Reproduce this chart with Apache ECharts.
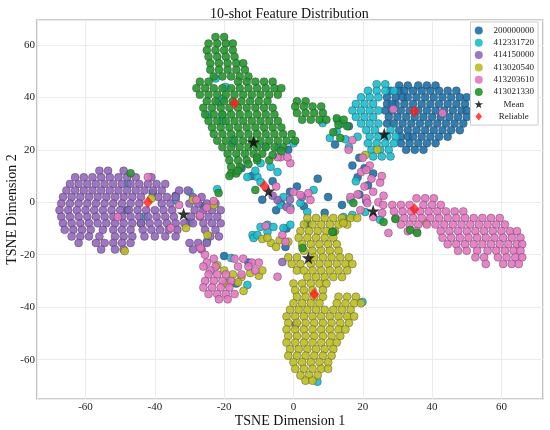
<!DOCTYPE html>
<html>
<head>
<meta charset="utf-8">
<script src="https://cdn.jsdelivr.net/npm/echarts/dist/echarts.min.js"></script>
<style>
html, body { margin: 0; padding: 0; background: #fff; }
#chart { width: 550px; height: 430px; }
</style>
</head>
<body>
<div id="chart"></div>
<script>
// 类别名称与颜色
var classNames = ['200000000', '412331720', '414150000', '413020540', '413203610', '413021330'];
var classColors = ['#1c70a8', '#17becf', '#9467bd', '#bcbd22', '#e377c2', '#24962c'];

// 每个类别: 按行 [y, [x...]] 读出的主体, 外加零散点 [x, y]
var blueRows = [
    [44.5, [30.5, 33, 36, 38.5, 41]],
    [42.5, [28, 30.5, 32, 34.5, 37, 39.5, 42, 44.5, 47]],
    [40, [27, 29.5, 31.5, 33, 35.5, 38, 40.5, 43, 45.5, 48, 50]],
    [37.5, [27, 29.5, 32, 34.5, 37, 39.5, 42, 44.5, 47, 49.5]],
    [35, [26.5, 28.5, 31, 33.5, 36, 38.5, 41, 43.5, 46, 48.5, 50]],
    [32.5, [27.5, 30, 32.5, 35, 37.5, 40, 42.5, 45, 47.5, 50]],
    [30, [27, 29, 31.5, 34, 36.5, 39, 41.5, 44, 46.5, 49]],
    [27.5, [30.5, 33, 35.5, 38, 40.5, 43, 45.5, 48]],
    [25, [31, 33, 34.5, 37, 39.5, 42, 44.5]],
    [22.5, [31, 33.5, 36, 38.5, 41]],
    [20, [32.5, 35, 37.5]]
];
var blueExtra = [[19, 17], [20.5, 13], [18.5, 9.5], [21.5, 6.5], [19, 3], [21, 0.5], [17, 14], [23, 11],
    [-40.6, 3.5], [-3.7, 0], [-2.3, -17], [-1, 4], [3, -1.5], [-5, -3], [1, 6], [-9, 1], [-34, 2.5],
    [-44, -8], [-48, -3], [-30, -7.5], [-26, -1.5], [-13, -23], [-16.5, -31], [-20, -20.5], [7, 9],
    [10, 2], [14, -1], [-2, -10], [-6, 8], [-12, 10], [-15, 13], [4, -8], [9, -4], [-1.5, 20],
    [16, 29], [12, 22], [28.5, 37.5]];

var cyanRows = [
    [45, [24, 26.5]],
    [42.5, [21.5, 24, 26.5, 29]],
    [40, [19.5, 22, 24.5]],
    [37.5, [18, 20.5, 23]],
    [35, [17, 19.5, 22, 24.5]],
    [32.5, [18, 20.5, 23]],
    [30, [19.5, 22, 24.5]],
    [27.5, [21, 23.5, 28]],
    [25, [22, 24.5, 27, 29.5]],
    [22.5, [21.5, 24, 26.5, 29]],
    [20, [22.5, 25, 27.5]],
    [17.5, [23, 25.5, 28]]
];
var cyanExtra = [[14, 30], [12.5, 27], [15, 24], [16, 21], [18.5, 25], [10.5, 24.5], [8.4, 30.2], [12.7, 31.3],
    [-22.5, 47.2], [-19.6, 44], [-21.6, 38.3], [-20.5, 39.5], [-24.8, 33.3], [-20.5, 33.3], [-20.5, 31],
    [-17.6, 22.5], [-17.3, 24], [-8.1, 21.3], [-4.3, 20.5], [0, 22.5], [-9.5, 14.9], [-6.6, 13.5],
    [-4.6, 11.5], [-13.3, 9.6], [-10.4, 9.6], [-9.5, 7.7], [-11, 12], [-3.7, -1], [-0.9, -2.2], [2, -0.3],
    [-2.9, 2], [5.8, 4.7], [4, -3.7], [-11.8, -12.5], [-9.5, -9.4], [-7.5, -8.6], [-5.8, -9.4],
    [-2.9, -9.8], [-0.9, -8.6], [14.4, -5.6], [17, -4.8], [20.7, -3.7], [25, -6.7], [-19, -30.7],
    [-18, -21.2], [-13.3, -31.5], [-11.5, -13.6], [-10.4, -12.5], [-7.5, -11.3], [-47.8, 7.3],
    [-43.2, -5.6], [-34, 0.9], [6.9, -68.4], [19.9, -38], [-22, 5], [-25, -15], [-30, 4], [18, 8], [16.5, 1]];

var purpleRows = [
    [12, [-56, -53.5, -49]],
    [9.5, [-63, -60.5, -58, -55.5, -53, -50.5, -48, -45.5, -41]],
    [7, [-64.5, -62, -59.5, -57, -54.5, -52, -49.5, -47, -44.5, -42, -39.5, -37]],
    [4.5, [-65.5, -63, -60.5, -58, -55.5, -53, -50.5, -48, -45.5, -43, -40.5, -38, -33, -30.5]],
    [2, [-66.5, -64, -61.5, -59, -56.5, -54, -51.5, -49, -46.5, -44, -39, -36.5, -34, -29, -26.5]],
    [-0.5, [-67, -64.5, -62, -59.5, -57, -54.5, -52, -49.5, -47, -44.5, -38, -35.5, -30, -27.5, -25, -22.5]],
    [-3, [-67.5, -65, -62.5, -60, -57.5, -55, -52.5, -50, -47.5, -45, -42.5, -40, -37.5, -35, -28.5, -26, -23.5, -21]],
    [-5.5, [-67, -64.5, -62, -59.5, -57, -54.5, -52, -49.5, -47, -44.5, -42, -39.5, -37, -34.5, -29.5, -27, -24.5, -22]],
    [-8, [-66.5, -64, -61.5, -59, -56.5, -54, -51.5, -49, -46.5, -44, -41.5, -39, -36.5, -34, -31.5, -29, -26, -23.5, -21]],
    [-10.5, [-66, -63.5, -61, -58.5, -55, -52, -49.5, -47, -43.5, -41, -38.5, -36, -33.5, -25.5, -22.5]],
    [-13, [-64, -61.5, -59, -56, -51.5, -49, -46.5, -43, -40, -37, -34, -24, -21.5]],
    [-15.5, [-62, -57, -54.5, -52, -49.5, -47, -30, -27.5, -25]],
    [-18, [-55.5, -51.5, -49, -29, -26.5]]
];
var purpleExtra = [[-4.6, 0.9], [-2, -1.8], [0.6, -46.7], [-3.2, -22.8], [-6, 2.5], [-1, 1], [2.5, 2]];

var oliveRows = [
    [-6, [4, 6.5, 9, 11.5, 14, 16.5]],
    [-8.5, [3, 5.5, 8, 10.5, 13, 15.5]],
    [-11, [2, 4.5, 7, 9.5, 12]],
    [-13.5, [1.5, 4, 6.5, 9, 11.5]],
    [-16, [2.5, 5, 7.5, 10, 12.5]],
    [-18.5, [3, 5.5, 8, 10.5, 13]],
    [-21, [-1.5, 1, 6, 8.5, 11, 13.5, 16]],
    [-23.5, [-0.5, 2, 5, 7.5, 10, 12.5, 15, 17]],
    [-26, [1, 3, 5.5, 8, 10.5, 13, 15.5]],
    [-28.5, [4, 6.5, 9, 11.5, 14]],
    [-31, [0, 2.5, 5, 7.5, 9.5]],
    [-33.5, [0.5, 3, 5.5, 8.5]],
    [-36, [1, 3.5, 6, 8.5, 13, 15.5, 18]],
    [-38.5, [0, 2.5, 5, 7.5, 12.5, 15, 17.5, 19.5]],
    [-41, [-1, 1.5, 4, 6.5, 9, 11.5, 14, 16.5]],
    [-43.5, [-2, 0.5, 3, 5.5, 8, 10.5, 13, 15.5, 17.5]],
    [-46, [-1.5, 1, 3.5, 6, 8.5, 11, 13.5, 16]],
    [-48.5, [-2, 0.5, 3, 5.5, 8, 10.5, 13, 15]],
    [-51, [-1.5, 1, 3.5, 6, 8.5, 11, 13.5]],
    [-53.5, [-2, 0.5, 3, 5.5, 8, 10.5, 12.5]],
    [-56, [-1, 1.5, 4, 6.5, 9, 11.5]],
    [-58.5, [-1.5, 1, 3.5, 6, 8.5, 11]],
    [-61, [0, 2.5, 5, 7.5, 10]],
    [-63.5, [0.5, 3, 5.5, 8, 10]],
    [-66, [2, 4.5, 7]],
    [-68, [3.5, 5.5]]
];
var oliveExtra = [[-9, -14], [-6.5, -15.5], [-4, -14.5], [-1.5, -15], [-20, -26], [-17.5, -27.5], [-15, -28.5],
    [-12.5, -27], [-10, -28], [-9, -26], [-16, -30.5], [-19.5, -31], [-22, -24], [-14.4, -33.8],
    [-48.7, -18.6], [-41, 1.5], [-31, -9.8], [-24.8, -12.5], [-29, 0.9], [-23, -1], [18.4, -6],
    [14.4, -7.9], [38.3, -7.9], [20.7, 18], [24.2, 20], [-7.5, -13.5], [-5, -17]];

var pinkRows = [
    [1.5, [35.5, 38, 40.5]],
    [-1, [28.5, 31, 33.5, 37.5, 40, 42.5]],
    [-3.5, [29, 31.5, 34, 36.5, 39, 41.5, 44, 46.5, 49]],
    [-6, [29.5, 32, 34.5, 37, 39.5, 42, 44.5, 47, 49.5, 52, 54.5, 57, 59.5]],
    [-8.5, [31, 33.5, 36, 38.5, 41, 43.5, 46, 48.5, 51, 53.5, 56, 58.5, 61]],
    [-11, [33, 35.5, 42.5, 45, 47.5, 50, 52.5, 55, 57.5, 60, 62.5, 64.5]],
    [-13.5, [43, 45.5, 48, 50.5, 53, 55.5, 58, 60.5, 63, 65.5]],
    [-16, [44.5, 47, 49.5, 52, 54.5, 57, 59.5, 62, 64.5, 66]],
    [-18.5, [47.5, 50, 53, 56, 58.5, 61, 63.5, 65.5]],
    [-21, [52.5, 55, 59, 61.5, 64, 66]],
    [-23.5, [55.5, 60.5, 63, 65]],
    // 左下粉色团
    [-20, [-25.5]],
    [-21.5, [-23, -17, -14.5]],
    [-23, [-25, -12, -10]],
    [-24.5, [-22.5, -26, -16, -13]],
    [-26, [-24, -11]],
    [-27.5, [-24.5, -22, -19.5, -15]],
    [-30, [-25.5, -23, -20.5, -18]],
    [-32.5, [-26, -23.5, -21, -18.5]],
    [-35, [-24.5, -22, -19.5, -17]],
    [-37, [-21.5, -19]]
];
var pinkExtra = [[20, 17], [22, 14], [19.5, 11.5], [22.5, 9], [25, 7.5], [20.5, 6], [23, 4], [26, 2.5],
    [21, 1.5], [18.5, 3], [24.5, 0], [17, 23.7], [28.8, 35.5], [43, 34], [15.9, 20], [21, 12.3],
    [25.5, 10], [16.4, 2], [21.3, -0.3], [25.9, -1], [19.3, -3], [23, -5.6], [25.6, -4.1], [27.4, -11.7],
    [-28, 1], [-25, -2], [-27, -5], [-23, 0.5], [-42, 9.6], [-50.7, -5.6], [-35.4, -9.8], [-26.8, -17.4],
    [0, 3.9], [2, 2.8], [4.9, 0.9], [4.3, 3.5], [-0.9, -2.9], [-3.7, 17.2], [-0.9, 14.9], [-4.6, 17.2],
    [-1.7, 17.2], [-3.2, -12.5], [-2.3, -15.1], [-4.6, -28.4], [-8, -9], [-5, 6], [-33, -1]];

var greenRows = [
    [63, [-22.5, -20]],
    [60.5, [-24.5, -22, -19.5, -17.5]],
    [58, [-25, -22.5, -20, -17.5]],
    [55.5, [-24.5, -22, -19.5, -17]],
    [53, [-24, -21.5, -19, -16.5, -14.5]],
    [50.5, [-24, -21.5, -19, -16.5, -14]],
    [48, [-23, -20.5, -18, -15.5, -13]],
    [46, [-27, -24.5, -16, -13.5, -11, -8.5, -6]],
    [43.5, [-28, -25.5, -23, -20.5, -18, -15.5, -13, -10.5, -8, -5.5, -3.5]],
    [41, [-27, -24.5, -22, -19.5, -17, -14.5, -12, -9.5, -7, -4.5]],
    [38.5, [-25, -22.5, -20, -17.5, -15, -12.5, -10, -7.5]],
    [36, [-26, -23.5, -21, -18.5, -16, -13.5, -11, -8.5, -6]],
    [33.5, [-25.5, -23, -20.5, -18, -15.5, -13, -10.5, -8, -5.5]],
    [31, [-24.5, -22, -19.5, -17, -14.5, -12, -9.5, -7, -4.5]],
    [28.5, [-23.5, -21, -18.5, -16, -13.5, -11, -8.5, -6, -3.5]],
    [26, [-23, -20.5, -18, -15.5, -13, -10.5, -8, -5.5, -3, -0.5]],
    [23.5, [-22, -19.5, -17, -14.5, -12, -9.5, -7, -4.5, -2, 0.5]],
    [21, [-20.5, -18, -15.5, -13, -10.5, -8, -5.5, -3]],
    [18.5, [-19, -16.5, -14, -11.5, -9]],
    [16, [-18.5, -16, -13.5, -10.5, -7]],
    [13.5, [-18, -15.5]],
    [11, [-18, -16.5]],
    // 小绿团
    [38.5, [1, 3.5]],
    [36.5, [0.5, 3, 5.5, 8]],
    [34, [1, 3.5, 6, 8.5]],
    [31.5, [2.5, 5, 7.5, 9.5]],
    [32, [12.5]],
    [31.5, [14.5]],
    [29.5, [13]],
    [29, [15.5]]
];
var greenExtra = [[11.5, 26.7], [13.5, 24.5], [11.5, -11.3], [17.3, -0.3], [29.4, -6.4], [33.7, -10.6],
    [35.7, -11.7], [26, -7.5], [2.6, -17.4], [11.2, -11.3], [-47, 11.1], [-21.6, 3.5], [-16, 12],
    [-13, 14.5], [-10.5, 17], [-6, 18], [-3.5, 19.5], [-18.5, 10], [-11, 4.7]];

// 均值点(星形)与可靠点(菱形)
var meanPoints = [[26.2, 26], [-7.2, 4.3], [-31.7, -4.5], [4.3, -21.2], [23, -3.3], [-11.5, 23]];
var reliablePoints = [[34.9, 34.7], [-8.4, 6.2], [-42, 0], [6, -35], [34.9, -2.6], [-17, 37.8]];

function rowsToPoints(rows, extra) {
    var pts = [];
    rows.forEach(function (r) {
        r[1].forEach(function (x) { pts.push([x, r[0]]); });
    });
    return pts.concat(extra);
}

var classData = [
    rowsToPoints(blueRows, blueExtra),
    rowsToPoints(cyanRows, cyanExtra),
    rowsToPoints(purpleRows, purpleExtra),
    rowsToPoints(oliveRows, oliveExtra),
    rowsToPoints(pinkRows, pinkExtra),
    rowsToPoints(greenRows, greenExtra)
];

var starPath = 'path://M50,0 L61.8,35.1 L98.9,35.1 L68.8,56.7 L80.2,91.8 L50,70 L19.8,91.8 L31.2,56.7 L1.1,35.1 L38.2,35.1 Z';
var diamondPath = 'path://M5,0 L10,6 L5,12 L0,6 Z';
var serif = 'Liberation Serif';

var chart = echarts.init(document.getElementById('chart'));

var series = classNames.map(function (name, i) {
    return {
        name: name,
        type: 'scatter',
        data: classData[i],
        symbolSize: 8,
        itemStyle: {
            color: classColors[i],
            borderColor: '#333',
            borderWidth: 0.4,
            opacity: 0.9
        },
        z: 2 + i
    };
});
series.push({
    name: 'Mean',
    type: 'scatter',
    data: meanPoints,
    symbol: starPath,
    symbolSize: 13,
    itemStyle: { color: '#000' },
    z: 20
});
series.push({
    name: 'Reliable',
    type: 'scatter',
    data: reliablePoints,
    symbol: diamondPath,
    symbolSize: [10, 12],
    itemStyle: { color: '#ff1a1a' },
    z: 21
});

var option = {
    animation: false,
    backgroundColor: '#fff',
    title: {
        text: '10-shot Feature Distribution',
        left: 205,
        top: 2,
        textStyle: { fontFamily: serif, fontSize: 14, fontWeight: 'normal', color: '#111' }
    },
    legend: {
        orient: 'vertical',
        right: 12,
        top: 22,
        backgroundColor: '#fff',
        borderColor: '#ccc',
        borderWidth: 1,
        padding: [4, 4, 4, 4],
        itemWidth: 18,
        itemHeight: 8,
        itemGap: 3.3,
        itemStyle: { borderWidth: 0 },
        formatter: function (name) { return '{t|' + name + '}'; },
        textStyle: {
            fontFamily: serif, fontSize: 9, color: '#222',
            rich: { t: { width: 42, align: 'center', fontFamily: serif, fontSize: 9, color: '#222' } }
        },
        data: classNames.map(function (n) { return { name: n, icon: 'circle' }; })
            .concat([{ name: 'Mean', icon: starPath }, { name: 'Reliable', icon: diamondPath }])
    },
    grid: {
        left: 37, right: 7, top: 20, bottom: 31,
        containLabel: false,
        outerBoundsMode: 'none',
        show: true,
        borderColor: '#999',
        borderWidth: 1.2
    },
    xAxis: {
        type: 'value',
        min: -74, max: 72,
        splitNumber: 7,
        name: 'TSNE Dimension 1',
        nameLocation: 'middle',
        nameGap: 15,
        nameMoveOverlap: false,
        nameTextStyle: { fontFamily: serif, fontSize: 14, color: '#111' },
        axisLine: { show: false },
        axisTick: { show: false },
        axisLabel: { fontFamily: serif, fontSize: 11, color: '#222', margin: 3, showMinLabel: false, showMaxLabel: false },
        splitLine: { lineStyle: { color: '#ececec' } }
    },
    yAxis: {
        type: 'value',
        min: -75, max: 69.5,
        splitNumber: 7,
        name: 'TSNE Dimension 2',
        nameLocation: 'middle',
        nameGap: 18,
        nameMoveOverlap: false,
        nameTextStyle: { fontFamily: serif, fontSize: 14, color: '#111' },
        axisLine: { show: false },
        axisTick: { show: false },
        axisLabel: { fontFamily: serif, fontSize: 11, color: '#222', margin: 2, showMinLabel: false, showMaxLabel: false },
        splitLine: { lineStyle: { color: '#ececec' } }
    },
    series: series
};

chart.setOption(option);
</script>
</body>
</html>
